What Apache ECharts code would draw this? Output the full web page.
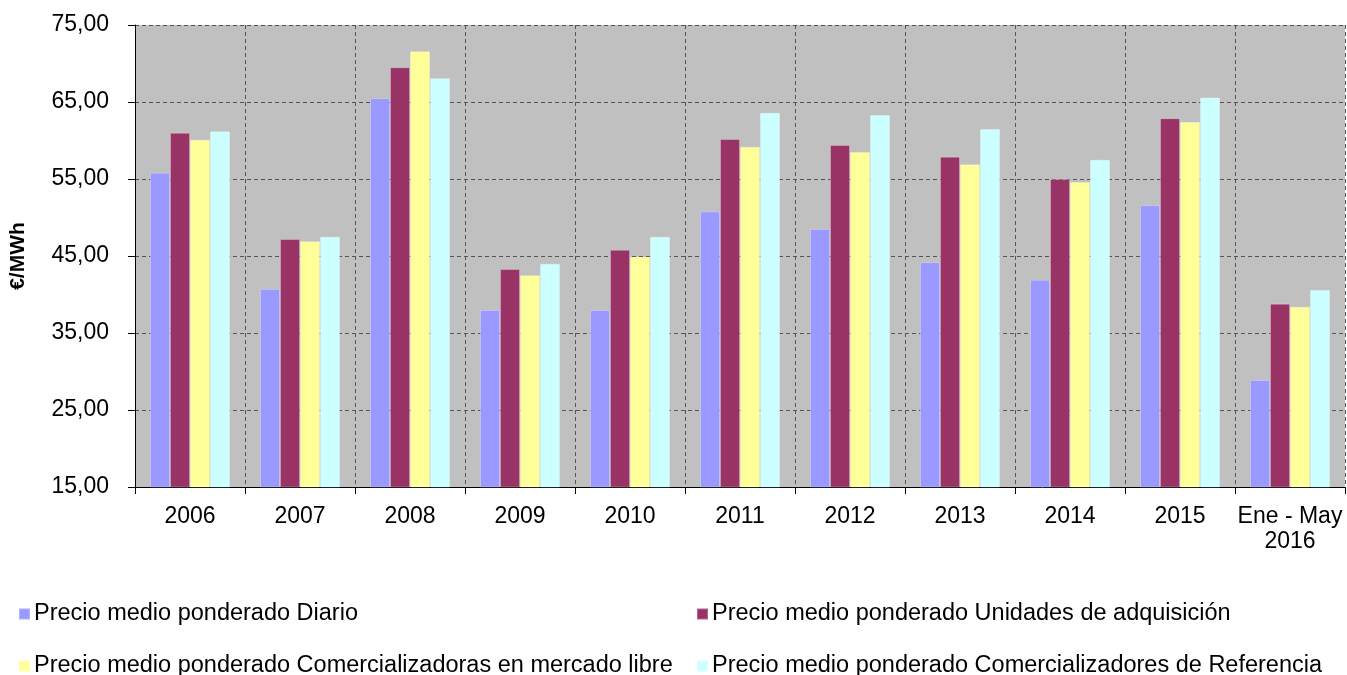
<!DOCTYPE html>
<html>
<head>
<meta charset="utf-8">
<script src="https://cdn.jsdelivr.net/npm/echarts@6/dist/echarts.min.js"></script>
<style>
  html, body { margin: 0; padding: 0; background: #fff; }
  #main { width: 1347px; height: 675px; }
</style>
</head>
<body>
<div id="main"></div>
<script>
var categories = ['2006', '2007', '2008', '2009', '2010', '2011', '2012', '2013', '2014', '2015', 'Ene - May\n2016'];
var diario = [55.8, 40.7, 65.5, 38.0, 38.0, 50.8, 48.5, 44.2, 41.9, 51.6, 28.9];
var unidades = [61.0, 47.2, 69.5, 43.3, 45.8, 60.2, 59.4, 57.9, 55.0, 62.9, 38.8];
var comercializadoras = [60.1, 46.9, 71.6, 42.5, 44.9, 59.2, 58.5, 56.9, 54.6, 62.4, 38.4];
var referencia = [61.2, 47.5, 68.1, 44.0, 47.5, 63.6, 63.3, 61.5, 57.5, 65.6, 40.6];
var seriesNames = [
    'Precio medio ponderado Diario',
    'Precio medio ponderado Unidades de adquisición',
    'Precio medio ponderado Comercializadoras en mercado libre',
    'Precio medio ponderado Comercializadores de Referencia'
];

var chart = echarts.init(document.getElementById('main'));
var font = 'Liberation Sans, Arial, sans-serif';
var dashed = { color: '#555', type: [4, 3], width: 1 };

function bar(name, data) {
    return {
        name: name,
        type: 'bar',
        data: data,
        barWidth: 20,
        barGap: '0%',
        barCategoryGap: '27%',
        itemStyle: { borderColor: 'rgba(255,255,255,0.25)', borderWidth: 1 }
    };
}

// one legend per item so each sits where the original puts it
function legendItem(name, left, top) {
    return {
        left: left, top: top,
        itemWidth: 11, itemHeight: 11, itemGap: 0,
        icon: 'rect',
        textStyle: { color: '#000', fontSize: 23.5, fontFamily: font, padding: [0, 0, 0, -1] },
        data: [name]
    };
}

chart.setOption({
    animation: false,
    color: ['#9999FF', '#993366', '#FFFF99', '#CCFFFF'],
    grid: {
        left: 135, right: 2, top: 25, bottom: 188,
        show: true,
        backgroundColor: '#C0C0C0',
        borderColor: '#555',
        borderWidth: 0
    },
    legend: [
        legendItem(seriesNames[0], 13, 597),
        legendItem(seriesNames[1], 691, 597),
        legendItem(seriesNames[2], 13, 649),
        legendItem(seriesNames[3], 691, 649)
    ],
    xAxis: {
        type: 'category',
        data: categories,
        axisLine: { lineStyle: { color: '#000', width: 1 } },
        axisTick: { show: true, length: 7, lineStyle: { color: '#000' } },
        axisLabel: { color: '#000', fontSize: 23, fontFamily: font, margin: 17, lineHeight: 25, interval: 0 },
        splitLine: { show: true, lineStyle: dashed }
    },
    yAxis: {
        type: 'value',
        min: 15, max: 75, interval: 10,
        name: '€/MWh',
        nameLocation: 'middle',
        nameGap: 106,
        nameRotate: 90,
        nameTextStyle: { color: '#000', fontSize: 21, fontWeight: 'bold', fontFamily: font },
        axisLine: { show: true, lineStyle: { color: '#000', width: 1 } },
        axisTick: { show: true, length: 7, lineStyle: { color: '#000' } },
        axisLabel: {
            color: '#000', fontSize: 23, fontFamily: font, margin: 26,
            formatter: function (v) { return v.toFixed(2).replace('.', ','); }
        },
        splitLine: { show: true, lineStyle: dashed }
    },
    series: [
        bar(seriesNames[0], diario),
        bar(seriesNames[1], unidades),
        bar(seriesNames[2], comercializadoras),
        bar(seriesNames[3], referencia)
    ]
});
</script>
</body>
</html>
